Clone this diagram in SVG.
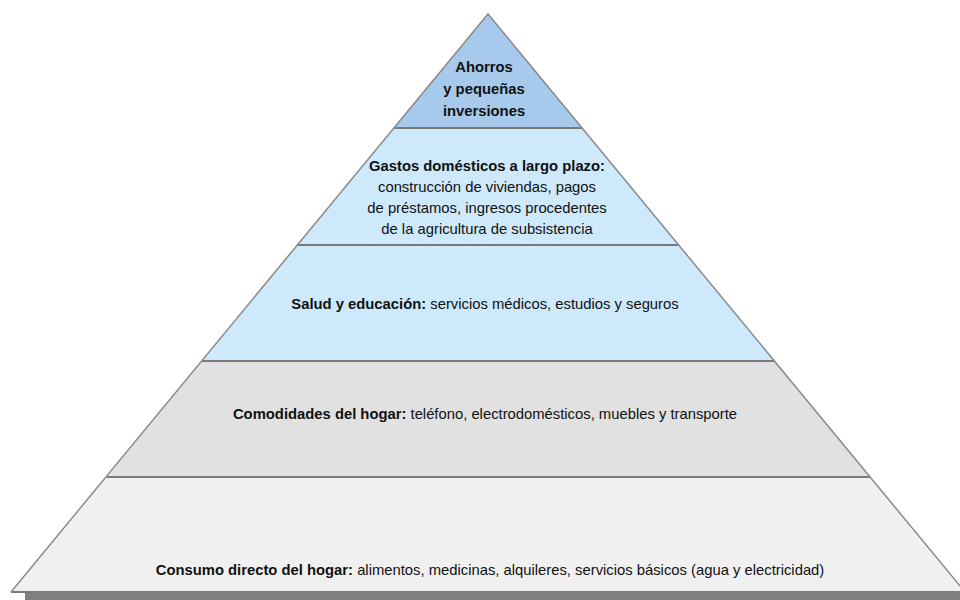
<svg xmlns="http://www.w3.org/2000/svg" width="960" height="600" viewBox="0 0 960 600">
<style>
.t{font-family:"Liberation Sans",Arial,sans-serif;font-size:14.8px;fill:#111;text-anchor:middle}
.b{font-weight:bold}
.sep{stroke:#7a7a7a;stroke-width:2;fill:none}
.edge{stroke:#8a8a8a;stroke-width:1.5;fill:none}
</style>
<rect width="960" height="600" fill="#ffffff"/>
<rect x="25" y="592" width="935" height="8" fill="#808080"/>
<g id="tier5">
<polygon points="107,477 870,477 965,592 11,592" fill="#f0f0f0"/>
<text class="t" x="490" y="575"><tspan class="b">Consumo directo del hogar:</tspan> alimentos, medicinas, alquileres, servicios básicos (agua y electricidad)</text>
</g>
<g id="tier4">
<polygon points="202,361 774,361 870,477 107,477" fill="#e1e1e1"/>
<text class="t" x="485" y="419"><tspan class="b">Comodidades del hogar:</tspan> teléfono, electrodomésticos, muebles y transporte</text>
</g>
<g id="tier3">
<polygon points="297,245 679,245 774,361 202,361" fill="#cde9fb"/>
<text class="t" x="485" y="309"><tspan class="b">Salud y educación:</tspan> servicios médicos, estudios y seguros</text>
</g>
<g id="tier2">
<polygon points="394,128 582,128 679,245 297,245" fill="#cde9fb"/>
<text class="t b" x="487" y="171">Gastos domésticos a largo plazo:</text>
<text class="t" x="487" y="192">construcción de viviendas, pagos</text>
<text class="t" x="487" y="213">de préstamos, ingresos procedentes</text>
<text class="t" x="487" y="234">de la agricultura de subsistencia</text>
</g>
<g id="tier1">
<polygon points="488,14 582,128 394,128" fill="#a6c9ec"/>
<text class="t b" x="484" y="72">Ahorros</text>
<text class="t b" x="484" y="94">y pequeñas</text>
<text class="t b" x="484" y="116">inversiones</text>
</g>
<g id="connectors">
<line class="sep" x1="394" y1="128" x2="582" y2="128"/>
<line class="sep" x1="297" y1="245" x2="679" y2="245"/>
<line class="sep" x1="202" y1="361" x2="774" y2="361"/>
<line class="sep" x1="107" y1="477" x2="870" y2="477"/>
<line class="sep" x1="11" y1="592" x2="965" y2="592"/>
<polyline class="edge" points="11,592 488,14 965,592"/>
</g>
</svg>
